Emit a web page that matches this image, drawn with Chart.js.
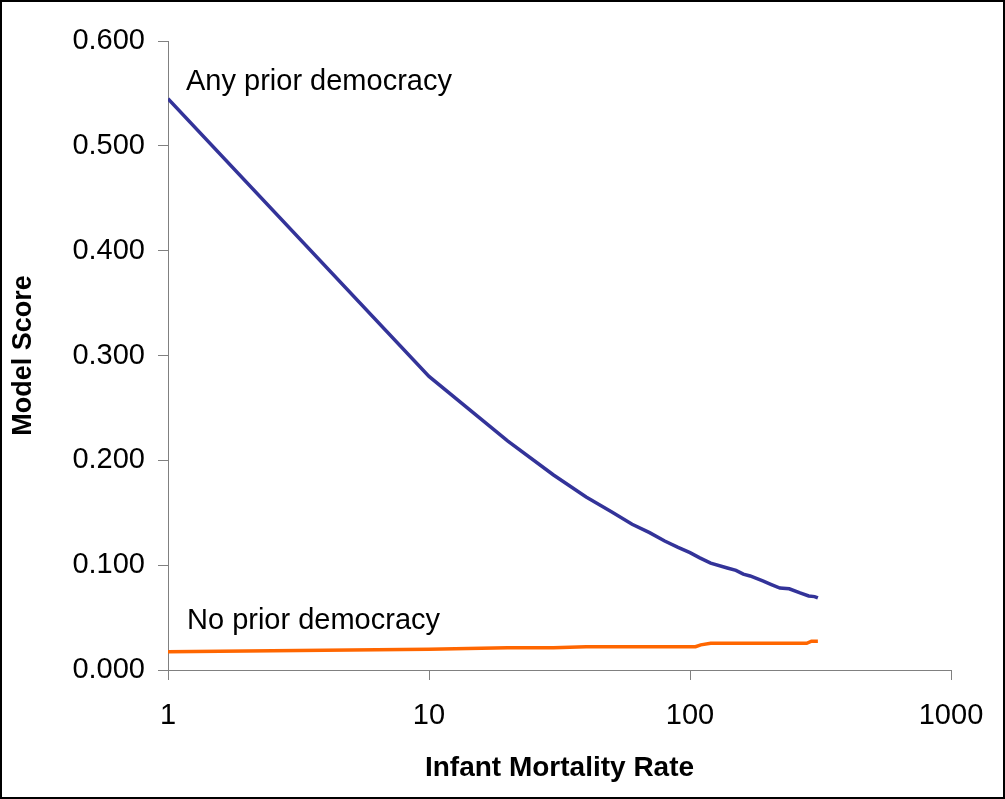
<!DOCTYPE html>
<html>
<head>
<meta charset="utf-8">
<script src="https://cdn.jsdelivr.net/npm/chart.js@4.4.0/dist/chart.umd.min.js"></script>
<style>
  html, body { margin: 0; padding: 0; background: #fff; }
  canvas { display: block; }
</style>
</head>
<body>
<canvas id="c" width="1005" height="799"></canvas>
<script>
// ---- Data ----
const xTickValues = [1, 10, 100, 1000];
const yTickStep = 0.1;

const anyPriorX = [1, 10, 20, 30, 40, 50, 60, 70, 80, 90, 100, 109, 120, 139, 150, 160, 170, 190, 205, 221, 240, 264, 285, 300, 309];
const anyPriorY = [0.545, 0.280, 0.2185, 0.186, 0.165, 0.151, 0.139, 0.131, 0.123, 0.117, 0.112, 0.107, 0.102, 0.0973, 0.095, 0.0915, 0.0897, 0.085, 0.0815, 0.0782, 0.0775, 0.0735, 0.0706, 0.070, 0.0687];

const noPriorX = [1, 10, 20, 30, 40, 105, 110, 120, 280, 292, 309];
const noPriorY = [0.0175, 0.0197, 0.0212, 0.0212, 0.0222, 0.0222, 0.0240, 0.0255, 0.0255, 0.0275, 0.0275];

const seriesNames = ["Any prior democracy", "No prior democracy"];
const xTitle = "Infant Mortality Rate";
const yTitle = "Model Score";

const FONT = "'Liberation Sans', Arial, sans-serif";

const toPts = (xs, ys) => xs.map((x, i) => ({ x: x, y: ys[i] }));

const labelPlugin = {
  id: 'labels',
  afterDatasetsDraw(chart) {
    const { ctx, scales } = chart;
    const xs = scales.x, ys = scales.y;
    ctx.save();
    ctx.font = "29px " + FONT;
    ctx.fillStyle = "#000";
    ctx.textAlign = "left";
    ctx.textBaseline = "alphabetic";
    ctx.fillText(seriesNames[0], xs.getPixelForValue(anyPriorX[0]) + 18, ys.getPixelForValue(anyPriorY[0]) - 9);
    ctx.fillText(seriesNames[1], xs.getPixelForValue(noPriorX[0]) + 19, ys.getPixelForValue(noPriorY[0]) - 23);
    ctx.restore();
  },
  afterDraw(chart) {
    const ctx = chart.ctx;
    ctx.save();
    ctx.strokeStyle = "#000";
    ctx.lineWidth = 2;
    ctx.strokeRect(1, 1, chart.width - 2, chart.height - 2);
    ctx.restore();
  }
};

new Chart(document.getElementById('c'), {
  type: 'line',
  data: {
    datasets: [
      {
        label: seriesNames[0],
        data: toPts(anyPriorX, anyPriorY),
        borderColor: '#333399',
        borderWidth: 3.5,
        pointRadius: 0,
        tension: 0,
        fill: false
      },
      {
        label: seriesNames[1],
        data: toPts(noPriorX, noPriorY),
        borderColor: '#FF6600',
        borderWidth: 3.5,
        pointRadius: 0,
        tension: 0,
        fill: false
      }
    ]
  },
  options: {
    responsive: false,
    animation: false,
    devicePixelRatio: 1,
    layout: { padding: { top: 41, right: 54, bottom: 0, left: 0 } },
    plugins: {
      legend: { display: false },
      tooltip: { enabled: false }
    },
    scales: {
      x: {
        type: 'logarithmic',
        min: 1,
        max: 1000,
        afterBuildTicks(scale) {
          scale.ticks = xTickValues.map(v => ({ value: v }));
        },
        afterFit(scale) { scale.height = 129; },
        grid: { drawOnChartArea: false, drawTicks: true, tickLength: 10, color: '#808080' },
        border: { color: '#808080', width: 1 },
        ticks: {
          color: '#000',
          font: { family: FONT, size: 29 },
          padding: 19,
          maxRotation: 0,
          callback: (v) => String(v)
        },
        title: {
          display: true,
          text: xTitle,
          color: '#000',
          font: { family: FONT, size: 28, weight: 'bold' },
          padding: { top: 0, bottom: 14 }
        }
      },
      y: {
        type: 'linear',
        min: 0,
        max: 0.6,
        afterFit(scale) { scale.width = 168; },
        grid: { drawOnChartArea: false, drawTicks: true, tickLength: 10, color: '#808080' },
        border: { color: '#808080', width: 1 },
        ticks: {
          stepSize: yTickStep,
          color: '#000',
          font: { family: FONT, size: 29 },
          padding: 13,
          callback: (v) => Number(v).toFixed(3)
        },
        title: {
          display: true,
          text: yTitle,
          color: '#000',
          font: { family: FONT, size: 27, weight: 'bold' },
          padding: { top: 7, bottom: 0 }
        }
      }
    }
  },
  plugins: [labelPlugin]
});
</script>
</body>
</html>
